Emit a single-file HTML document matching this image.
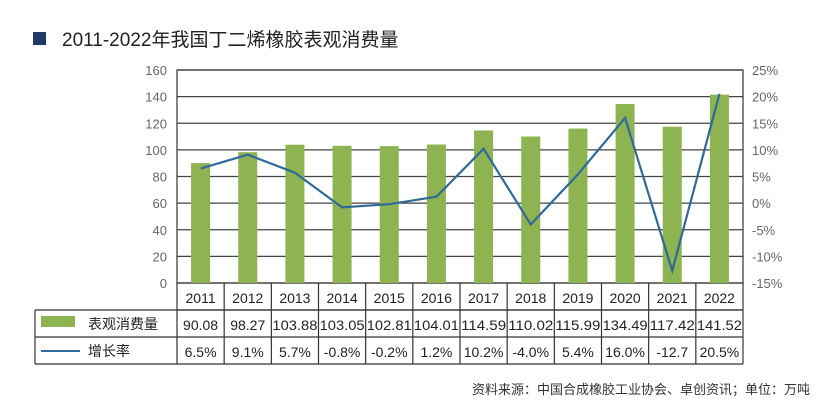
<!DOCTYPE html>
<html><head><meta charset="utf-8"><style>
body{margin:0;background:#fff;}
svg text{font-family:"Liberation Sans","Noto Sans CJK SC",sans-serif;}
</style></head><body>
<svg width="824" height="412" viewBox="0 0 824 412" xmlns="http://www.w3.org/2000/svg">
<rect x="33" y="32" width="13" height="13" fill="#1f3a68"/>
<text x="62" y="46" font-size="19" fill="#222">2011-2022年我国丁二烯橡胶表观消费量</text>
<g id="g"></g>
<text x="810" y="394" font-size="13" fill="#333" text-anchor="end">资料来源：中国合成橡胶工业协会、卓创资讯；单位：万吨</text>
</svg>
<script>
const NS="http://www.w3.org/2000/svg",g=document.getElementById('g');
function el(t,a,txt){const e=document.createElementNS(NS,t);for(const k in a)e.setAttribute(k,a[k]);if(txt!==undefined)e.textContent=txt;g.appendChild(e);return e;}
const L=177,R=743,T=70,B=283,cw=(R-L)/12;
const yrs=[2011,2012,2013,2014,2015,2016,2017,2018,2019,2020,2021,2022];
const vals=[90.08,98.27,103.88,103.05,102.81,104.01,114.59,110.02,115.99,134.49,117.42,141.52];
const vs=["90.08","98.27","103.88","103.05","102.81","104.01","114.59","110.02","115.99","134.49","117.42","141.52"];
const gr=[6.5,9.1,5.7,-0.8,-0.2,1.2,10.2,-4.0,5.4,16.0,-12.7,20.5];
const gs=["6.5%","9.1%","5.7%","-0.8%","-0.2%","1.2%","10.2%","-4.0%","5.4%","16.0%","-12.7","20.5%"];
for(let i=0;i<=8;i++){const y=B-i*(B-T)/8;el('line',{x1:L,x2:R,y1:y,y2:y,stroke:'#444','stroke-width':1.2});
el('text',{x:L-10,y:y+5,'font-size':13,fill:'#666','text-anchor':'end'},String(i*20));
el('text',{x:752,y:y+5,'font-size':13,fill:'#666'},(i*5-15)+'%');}
el('rect',{x:L,y:T,width:R-L,height:B-T,fill:'none',stroke:'#333','stroke-width':1.2});
let pts=[];
yrs.forEach((yr,i)=>{const cx=L+cw*(i+.5);const h=vals[i]*(B-T)/160;
el('rect',{x:cx-9.5,y:B-h,width:19,height:h,fill:'#8db451'});
pts.push(cx+','+(T+(25-gr[i])*(B-T)/40));
el('text',{x:cx,y:303,'font-size':14,fill:'#222','text-anchor':'middle'},String(yr));
el('text',{x:cx,y:330,'font-size':14,fill:'#222','text-anchor':'middle',textLength:vs[i].length>5?45:0,lengthAdjust:'spacingAndGlyphs'},vs[i]);
el('text',{x:cx,y:357,'font-size':14,fill:'#222','text-anchor':'middle'},gs[i]);
});
g.querySelectorAll('text').forEach(t=>{if(t.getAttribute('textLength')==='0')t.removeAttribute('textLength');});
el('polyline',{points:pts.join(' '),fill:'none',stroke:'#2f6a9a','stroke-width':2.2});
// table
const st={stroke:'#333','stroke-width':1.2};
el('line',Object.assign({x1:L,x2:R,y1:310,y2:310},st));
el('line',Object.assign({x1:35,x2:R,y1:310,y2:310},st));
el('line',Object.assign({x1:35,x2:R,y1:337,y2:337},st));
el('line',Object.assign({x1:35,x2:R,y1:364,y2:364},st));
el('line',Object.assign({x1:35,x2:35,y1:310,y2:364},st));
for(let i=0;i<=12;i++){const x=L+cw*i;el('line',Object.assign({x1:x,x2:x,y1:283,y2:364},st));}
el('rect',{x:41,y:316,width:34,height:11,fill:'#8db451'});
el('text',{x:88,y:329,'font-size':14,fill:'#222'},'表观消费量');
el('line',{x1:41,x2:80,y1:351,y2:351,stroke:'#2f6a9a','stroke-width':2});
el('text',{x:88,y:356,'font-size':14,fill:'#222'},'增长率');
</script>
</body></html>
